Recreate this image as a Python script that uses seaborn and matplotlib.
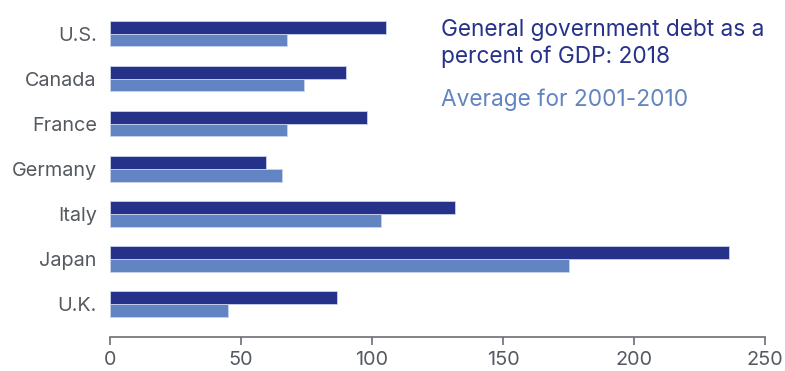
import matplotlib
matplotlib.use("Agg")
import matplotlib.pyplot as plt
import seaborn as sns
import pandas as pd

countries = ["U.S.", "Canada", "France", "Germany", "Italy", "Japan", "U.K."]
debt_2018 = [105.2, 90.2, 98.1, 59.4, 131.6, 236.3, 86.5]
avg_2001_2010 = [67.7, 73.9, 67.7, 65.7, 103.6, 175.2, 45.2]
series_names = ["General government debt as a\npercent of GDP: 2018", "Average for 2001-2010"]
x_ticks = [0, 50, 100, 150, 200, 250]

DARK = "#26318a"
LIGHT = "#6284c3"
GREY = "#555a60"

df = pd.DataFrame({
    "country": countries * 2,
    "value": debt_2018 + avg_2001_2010,
    "series": [series_names[0]] * len(countries) + [series_names[1]] * len(countries),
})

sns.set_theme(style="white")
plt.rcParams["font.family"] = ["Inter", "DejaVu Sans"]

fig = plt.figure(figsize=(7.85, 3.71), dpi=100)
ax = fig.add_axes([110 / 785, (371 - 336.7) / 371, 655 / 785, (336.7 - 11) / 371])

sns.barplot(data=df, y="country", x="value", hue="series", order=countries,
            hue_order=series_names, palette=[DARK, LIGHT], saturation=1,
            width=0.57, edgecolor="#c9d3ea", linewidth=0.6, legend=False, ax=ax)

ax.set_xlim(0, 250)
ax.set_ylim(6.73, -0.5)
ax.set_xticks(x_ticks)
ax.set_xticklabels([str(t) for t in x_ticks])
ax.set_xlabel("")
ax.set_ylabel("")

for side in ["top", "right", "left"]:
    ax.spines[side].set_visible(False)
ax.spines["bottom"].set_color("#6b6f74")
ax.spines["bottom"].set_linewidth(1.2)
ax.tick_params(axis="x", bottom=True, length=6, width=1.2, color="#6b6f74",
               labelsize=14.3, labelcolor=GREY, pad=4.5)
ax.tick_params(axis="y", left=False, length=0, labelsize=14.3, labelcolor=GREY, pad=9.5)

# Inline legend text, coloured like the series it names
legend_lines = [
    (series_names[0].split("\n")[0], DARK, 35.7),
    (series_names[0].split("\n")[1], DARK, 63.3),
    (series_names[1], LIGHT, 106.0),
]
for text, color, y_px in legend_lines:
    fig.text(440.7 / 785, 1 - y_px / 371, text, color=color, fontsize=16.3,
             ha="left", va="baseline")

fig.savefig("out.png", dpi=100)
